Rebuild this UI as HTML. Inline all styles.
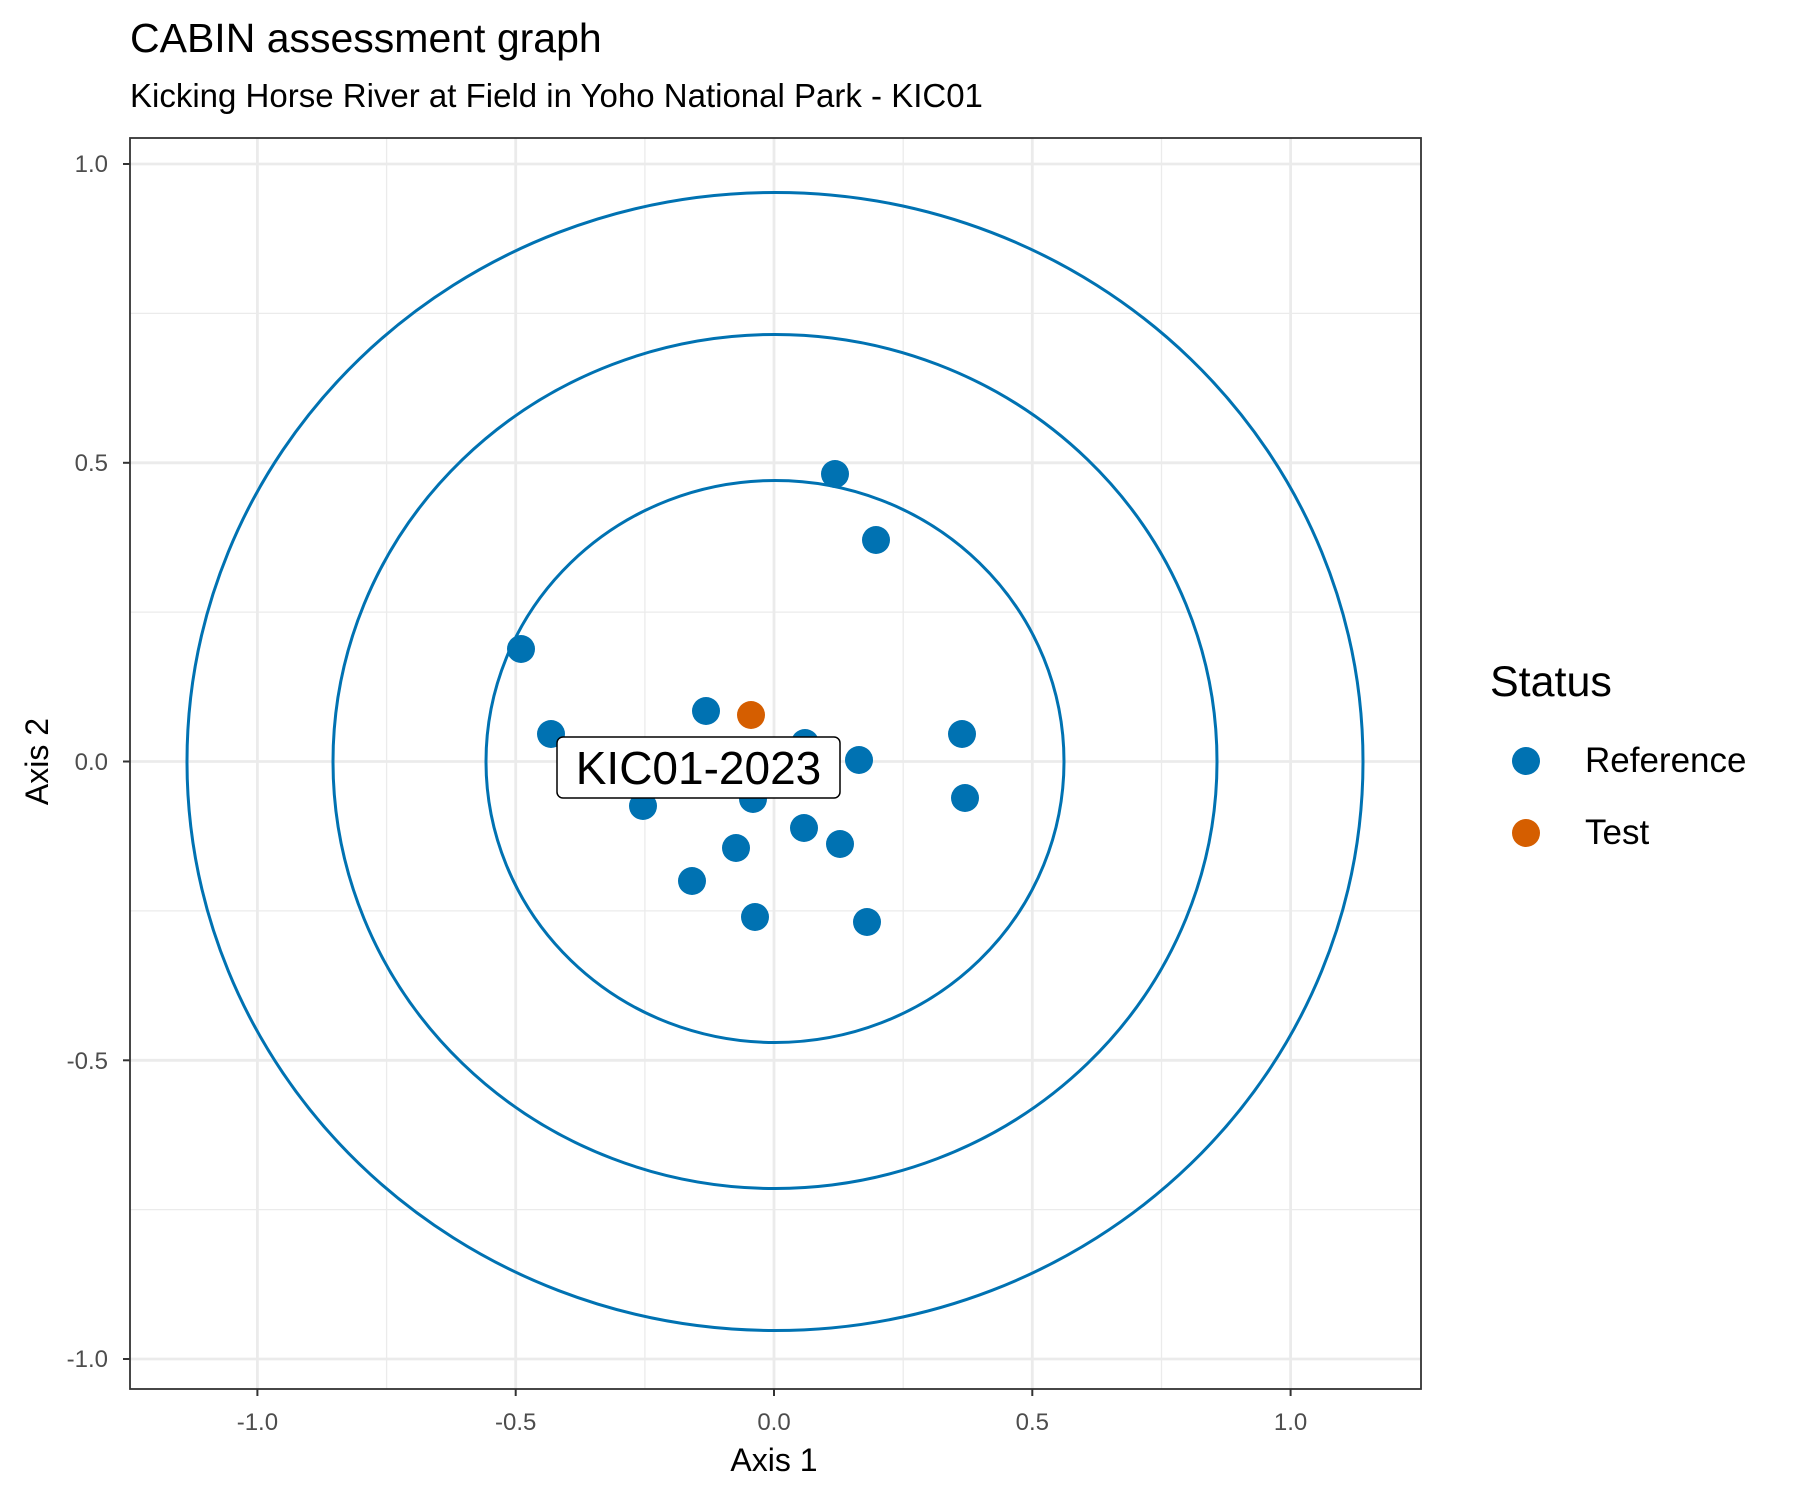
<!DOCTYPE html>
<html><head><meta charset="utf-8"><style>
html,body{margin:0;padding:0;background:#fff;}
svg{display:block;font-family:"Liberation Sans",Arial,sans-serif;}
</style></head><body>
<svg width="1800" height="1500" viewBox="0 0 1800 1500" xmlns="http://www.w3.org/2000/svg">
<rect width="1800" height="1500" fill="#fff"/>
<text x="130" y="52" font-size="41" fill="#000">CABIN assessment graph</text>
<text x="130" y="107" font-size="33" fill="#000">Kicking Horse River at Field in Yoho National Park - KIC01</text>
<g stroke="#ebebeb" stroke-width="1.3">
<line x1="386.6" y1="138" x2="386.6" y2="1389"/>
<line x1="644.9" y1="138" x2="644.9" y2="1389"/>
<line x1="903.2" y1="138" x2="903.2" y2="1389"/>
<line x1="1161.5" y1="138" x2="1161.5" y2="1389"/>
<line x1="130" y1="313.4" x2="1421" y2="313.4"/>
<line x1="130" y1="612.1" x2="1421" y2="612.1"/>
<line x1="130" y1="910.9" x2="1421" y2="910.9"/>
<line x1="130" y1="1209.6" x2="1421" y2="1209.6"/>
</g>
<g stroke="#ebebeb" stroke-width="2.8">
<line x1="257.4" y1="138" x2="257.4" y2="1389"/>
<line x1="515.7" y1="138" x2="515.7" y2="1389"/>
<line x1="774" y1="138" x2="774" y2="1389"/>
<line x1="1032.3" y1="138" x2="1032.3" y2="1389"/>
<line x1="1290.6" y1="138" x2="1290.6" y2="1389"/>
<line x1="130" y1="164" x2="1421" y2="164"/>
<line x1="130" y1="462.8" x2="1421" y2="462.8"/>
<line x1="130" y1="761.5" x2="1421" y2="761.5"/>
<line x1="130" y1="1060.3" x2="1421" y2="1060.3"/>
<line x1="130" y1="1359" x2="1421" y2="1359"/>
</g>
<g fill="none" stroke="#0072B2" stroke-width="3">
<ellipse cx="775" cy="761.5" rx="289" ry="281"/>
<ellipse cx="775" cy="761.5" rx="442" ry="427"/>
<ellipse cx="775" cy="761.5" rx="588" ry="569"/>
</g>
<g fill="#0072B2">
<circle cx="835" cy="474" r="14"/><circle cx="876" cy="540" r="14"/>
<circle cx="521" cy="649" r="14"/><circle cx="551" cy="734" r="14"/>
<circle cx="706" cy="711" r="14"/><circle cx="805" cy="743" r="14"/>
<circle cx="859" cy="760" r="14"/><circle cx="962" cy="734" r="14"/>
<circle cx="965" cy="798" r="14"/><circle cx="643" cy="806" r="14"/>
<circle cx="753" cy="799" r="14"/><circle cx="804" cy="828" r="14"/>
<circle cx="840" cy="844" r="14"/><circle cx="736" cy="848" r="14"/>
<circle cx="692" cy="881" r="14"/><circle cx="755" cy="917" r="14"/>
<circle cx="867" cy="922" r="14"/>
</g>
<circle cx="751" cy="715" r="14" fill="#D55E00"/>
<rect x="557" y="737" width="283" height="61" rx="6" fill="#fff" stroke="#000" stroke-width="1.5"/>
<text x="698.5" y="784" font-size="46" text-anchor="middle" fill="#000">KIC01-2023</text>
<rect x="130" y="138" width="1291" height="1251" fill="none" stroke="#333" stroke-width="1.8"/>
<g stroke="#333" stroke-width="2">
<line x1="123" y1="164" x2="130" y2="164"/><line x1="123" y1="462.8" x2="130" y2="462.8"/>
<line x1="123" y1="761.5" x2="130" y2="761.5"/><line x1="123" y1="1060.3" x2="130" y2="1060.3"/>
<line x1="123" y1="1359" x2="130" y2="1359"/>
<line x1="257.4" y1="1389" x2="257.4" y2="1396"/><line x1="515.7" y1="1389" x2="515.7" y2="1396"/>
<line x1="774" y1="1389" x2="774" y2="1396"/><line x1="1032.3" y1="1389" x2="1032.3" y2="1396"/>
<line x1="1290.6" y1="1389" x2="1290.6" y2="1396"/>
</g>
<g font-size="24" fill="#4d4d4d" text-anchor="end">
<text x="108" y="172">1.0</text><text x="108" y="471">0.5</text>
<text x="108" y="770">0.0</text><text x="108" y="1069">-0.5</text>
<text x="108" y="1367">-1.0</text>
</g>
<g font-size="24" fill="#4d4d4d" text-anchor="middle">
<text x="257.4" y="1430">-1.0</text><text x="515.7" y="1430">-0.5</text>
<text x="774" y="1430">0.0</text><text x="1032.3" y="1430">0.5</text>
<text x="1290.6" y="1430">1.0</text>
</g>
<text x="774" y="1471" font-size="32" text-anchor="middle" fill="#000">Axis 1</text>
<text transform="translate(48,761.5) rotate(-90)" font-size="32" text-anchor="middle" fill="#000">Axis 2</text>
<text x="1490" y="696" font-size="43" fill="#000">Status</text>
<circle cx="1526" cy="761" r="14" fill="#0072B2"/>
<circle cx="1526" cy="833" r="14" fill="#D55E00"/>
<text x="1585" y="772" font-size="35" fill="#000">Reference</text>
<text x="1585" y="844" font-size="35" fill="#000">Test</text>
</svg>
</body></html>
